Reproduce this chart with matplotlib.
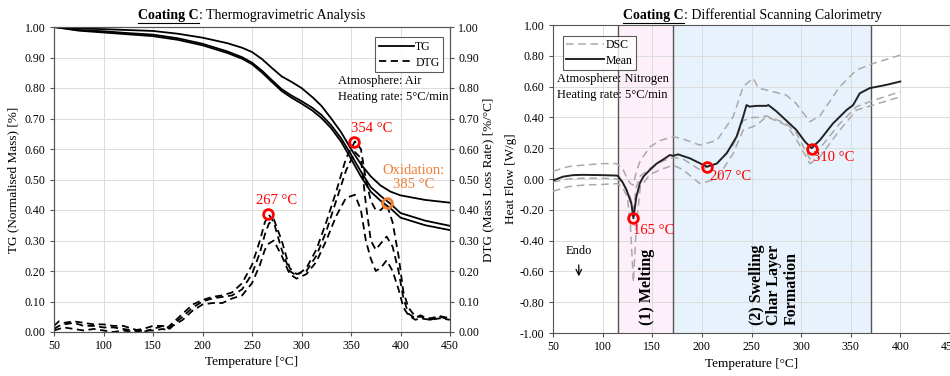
import matplotlib
matplotlib.use("Agg")
import matplotlib.pyplot as plt
from matplotlib.lines import Line2D

plt.rcParams['font.family'] = ['Liberation Serif', 'DejaVu Serif']
plt.rcParams['axes.unicode_minus'] = False

# ---- TGA data (left) ----
tg_t = [50, 75, 100, 125, 150, 175, 200, 225, 240, 250, 260, 270, 280, 290, 300, 311, 320, 330, 340, 350, 360, 370, 380,
        390, 400, 425, 450]
tg_a = [1.00, 0.995, 0.993, 0.99, 0.987, 0.978, 0.965, 0.947, 0.932, 0.918, 0.895, 0.866, 0.838, 0.82, 0.80, 0.77, 0.742,
        0.70, 0.655, 0.60, 0.55, 0.51, 0.48, 0.46, 0.448, 0.433, 0.424]
tg_b = [1.00, 0.99, 0.986, 0.98, 0.975, 0.963, 0.945, 0.92, 0.901, 0.883, 0.857, 0.826, 0.796, 0.775, 0.757, 0.735,
        0.712, 0.678, 0.635, 0.582, 0.526, 0.475, 0.446, 0.42, 0.39, 0.365, 0.348]
tg_c = [1.00, 0.988, 0.982, 0.976, 0.97, 0.958, 0.94, 0.915, 0.896, 0.878, 0.851, 0.82, 0.79, 0.768, 0.749, 0.726, 0.702,
        0.668, 0.624, 0.568, 0.51, 0.46, 0.43, 0.405, 0.375, 0.35, 0.334]

dtg_t = [50, 55, 60, 70, 80, 90, 100, 110, 120, 130, 140, 150, 160, 165, 170, 180, 190, 200, 210, 220, 230, 240, 250, 258,
         263, 267, 272, 280, 288, 295, 305, 315, 325, 335, 345, 354, 360, 365, 370, 375, 380, 386, 392, 398, 403, 408,
         415, 420, 430, 440, 450]
dtg_a = [0.02, 0.035, 0.03, 0.035, 0.03, 0.025, 0.025, 0.02, 0.02, 0.01, 0.0, 0.01, 0.02, 0.015, 0.03, 0.06, 0.09, 0.105,
         0.115, 0.12, 0.13, 0.16, 0.22, 0.30, 0.36, 0.385, 0.36, 0.27, 0.2, 0.185, 0.21, 0.27, 0.36, 0.46, 0.57, 0.625,
         0.6, 0.5, 0.43, 0.40, 0.40, 0.42, 0.36, 0.25, 0.13, 0.08, 0.05, 0.05, 0.045, 0.052, 0.045]
dtg_b = [0.01, 0.02, 0.025, 0.03, 0.02, 0.02, 0.015, 0.015, 0.01, 0.005, 0.01, 0.02, 0.02, 0.01, 0.025, 0.05, 0.08, 0.10,
         0.11, 0.115, 0.12, 0.14, 0.19, 0.26, 0.32, 0.355, 0.37, 0.30, 0.21, 0.19, 0.2, 0.25, 0.33, 0.43, 0.53, 0.59,
         0.57, 0.42, 0.30, 0.27, 0.29, 0.313, 0.28, 0.20, 0.11, 0.06, 0.045, 0.055, 0.04, 0.05, 0.04]
dtg_c = [0.005, 0.01, 0.015, 0.01, 0.005, 0.01, 0.005, 0.0, 0.005, 0.0, 0.005, 0.005, 0.01, 0.005, 0.02, 0.04, 0.07, 0.09,
         0.095, 0.095, 0.11, 0.12, 0.16, 0.22, 0.27, 0.29, 0.30, 0.25, 0.19, 0.175, 0.19, 0.23, 0.30, 0.38, 0.44, 0.45,
         0.40, 0.30, 0.24, 0.20, 0.21, 0.235, 0.20, 0.14, 0.08, 0.055, 0.04, 0.045, 0.04, 0.045, 0.04]

# ---- DSC data (right) ----
mean_t = [50, 60, 70, 80, 100, 115, 120, 124, 129, 131, 134, 137.6, 141, 147.7, 154.4, 162.8, 167.8, 171, 176, 188, 205,
          215, 225, 235, 241.6, 245, 248, 255, 265, 267, 275, 285, 295, 303.8, 310.5, 319, 332, 345.8, 352.4, 359, 369, 385, 400]
mean_v = [-0.01, 0.015, 0.025, 0.027, 0.025, 0.022, -0.02, -0.07, -0.16, -0.255, -0.115, -0.026, 0.015, 0.06, 0.10, 0.134,
          0.156, 0.15, 0.16, 0.134, 0.08, 0.10, 0.167, 0.275, 0.405, 0.48, 0.47, 0.475, 0.475, 0.48, 0.44, 0.38, 0.32,
          0.243, 0.20, 0.253, 0.36, 0.448, 0.48, 0.556, 0.59, 0.61, 0.633]

dsc_t = [50, 65, 80, 100, 114, 120, 125, 128, 131, 134, 138, 148, 158, 171, 181, 198, 215, 231.6, 241.6, 251.7, 257, 265,
         285, 295, 308.8, 319, 339, 355.8, 372.6, 400]
dsc_u = [0.05, 0.08, 0.09, 0.10, 0.10, 0.07, 0.0, -0.03, -0.04, 0.05, 0.12, 0.21, 0.25, 0.275, 0.26, 0.22, 0.25, 0.405,
         0.6, 0.654, 0.59, 0.578, 0.545, 0.49, 0.372, 0.41, 0.6, 0.708, 0.75, 0.805]
dsc_m = [-0.02, 0.0, 0.005, 0.005, 0.0, -0.02, -0.08, -0.12, -0.2, -0.05, 0.02, 0.07, 0.11, 0.14, 0.13, 0.06, 0.10, 0.22,
         0.38, 0.40, 0.40, 0.41, 0.36, 0.30, 0.13, 0.20, 0.36, 0.47, 0.51, 0.567]
dsc_l = [-0.08, -0.05, -0.04, -0.035, -0.03, -0.05, -0.12, -0.3, -0.67, -0.3, -0.05, 0.03, 0.06, 0.09, 0.06, -0.03, 0.0,
         0.167, 0.318, 0.34, 0.36, 0.405, 0.35, 0.26, 0.10, 0.145, 0.318, 0.448, 0.48, 0.534]

tga_marks = [(266.5, 0.386), (353.5, 0.624)]
ox_mark = (386.5, 0.422)
dsc_marks = [(131, -0.255), (205.5, 0.08), (310.5, 0.198)]

W, H = 950, 376
fig = plt.figure(figsize=(W / 100, H / 100), dpi=100)
fs = 8.5
grid_kw = dict(color='#dcdcdc', lw=0.7)

# ---------------- left: TGA ----------------
ax = fig.add_axes([54 / W, 1 - 332 / H, 396 / W, 305 / H])
ax2 = ax.twinx()
for y in (tg_a, tg_b, tg_c):
    ax.plot(tg_t, y, color='k', lw=1.3, zorder=3)
for y in (dtg_a, dtg_b, dtg_c):
    ax2.plot(dtg_t, y, color='k', lw=1.3, ls=(0, (4, 2.5)))
ax.set_xlim(50, 450)
ax.set_ylim(0, 1)
ax2.set_ylim(0, 1)
ax.set_xticks(range(50, 451, 50))
ticks = [i / 10 for i in range(11)]
ax.set_yticks(ticks)
ax2.set_yticks(ticks)
ax.set_yticklabels([f"{t:.2f}" for t in ticks])
ax2.set_yticklabels([f"{t:.2f}" for t in ticks])
ax.grid(True, **grid_kw)
ax.set_axisbelow(True)
ax.set_xlabel("Temperature [°C]", fontsize=9.5, labelpad=3)
ax.set_ylabel("TG (Normalised Mass) [%]", fontsize=9.5, labelpad=4)
ax2.set_ylabel("DTG (Mass Loss Rate) [%/°C]", fontsize=9.5, labelpad=2)
for a in (ax, ax2):
    a.tick_params(labelsize=fs, length=3, color='#555555', pad=3)
    for s in a.spines.values():
        s.set_color('#555555')
        s.set_linewidth(0.8)

for (x, y) in tga_marks:
    ax2.plot(x, y, 'o', ms=7, mfc='none', mec='red', mew=2, zorder=5)
ax2.plot(*ox_mark, 'o', ms=7, mfc='none', mec='#ee7d31', mew=2, zorder=5)
ax2.text(275, 0.41, "267 °C", color='red', fontsize=10.5, ha='center', va='bottom')
ax2.text(350, 0.645, "354 °C", color='red', fontsize=10.5, ha='left', va='bottom')
ax2.text(413, 0.505, "Oxidation:\n385 °C", color='#ee7d31', fontsize=10.5, ha='center', va='center',
         linespacing=1.1)
ax.text(338 / W, 1 - 81 / H, "Atmosphere: Air", transform=fig.transFigure, fontsize=9, va='center')
ax.text(338 / W, 1 - 97 / H, "Heating rate: 5°C/min", transform=fig.transFigure, fontsize=9, va='center')
h = [Line2D([], [], color='k', lw=1.3), Line2D([], [], color='k', lw=1.3, ls=(0, (4, 2.5)))]
leg = ax.legend(h, ["TG", "DTG"], loc='upper right', fontsize=8.5, frameon=True, fancybox=False,
                handlelength=3.0, handletextpad=0.1, borderpad=0.3, labelspacing=0.3,
                bbox_to_anchor=(0.997, 0.985))
leg.get_frame().set_edgecolor('#333333')
leg.get_frame().set_linewidth(0.8)

# ---------------- right: DSC ----------------
bx = fig.add_axes([553 / W, 1 - 333 / H, 397 / W, 308 / H])
bx.axvspan(115, 171, color='#fdf0fa', zorder=0.2, lw=0)
bx.axvspan(171, 370, color='#e8f2fc', zorder=0.2, lw=0)
for xv in (115, 171, 370):
    bx.axvline(xv, color='#555555', lw=1.0, zorder=2)
for y in (dsc_u, dsc_m, dsc_l):
    bx.plot(dsc_t, y, color='#aaaaaa', lw=1.1, ls=(0, (5, 3)), zorder=3)
bx.plot(mean_t, mean_v, color='#222222', lw=1.4, zorder=4)
for (x, y) in dsc_marks:
    bx.plot(x, y, 'o', ms=7, mfc='none', mec='red', mew=2, zorder=5)
bx.text(131, -0.295, "165 °C", color='red', fontsize=10.5, ha='left', va='top')
bx.text(208, 0.06, "207 °C", color='red', fontsize=10.5, ha='left', va='top')
bx.text(312, 0.18, "310 °C", color='red', fontsize=10.5, ha='left', va='top')
bx.set_xlim(50, 450)
bx.set_ylim(-1, 1)
bx.set_xticks(range(50, 451, 50))
yt = [-1 + 0.2 * i for i in range(11)]
bx.set_yticks(yt)
bx.set_yticklabels([f"{t:.2f}" if abs(t) > 1e-9 else "0.00" for t in yt])
bx.grid(True, **grid_kw)
bx.set_axisbelow(True)
bx.tick_params(labelsize=fs, length=3, color='#555555', pad=3, right=True, top=False)
for s in bx.spines.values():
    s.set_color('#555555')
    s.set_linewidth(0.8)
bx.set_xlabel("Temperature [°C]", fontsize=9.5, labelpad=3)
bx.set_ylabel("Heat Flow [W/g]", fontsize=9.5, labelpad=2)
bx.text(557 / W, 1 - 79 / H, "Atmosphere: Nitrogen", transform=fig.transFigure, fontsize=9, va='center')
bx.text(557 / W, 1 - 95 / H, "Heating rate: 5°C/min", transform=fig.transFigure, fontsize=9, va='center')
bx.text(76, -0.47, "Endo", fontsize=9, ha='center', va='center')
bx.annotate("", xy=(76, -0.65), xytext=(76, -0.54),
            arrowprops=dict(arrowstyle='->', color='k', lw=0.9))
bx.text(145, -0.95, "(1) Melting", fontsize=11.5, weight='bold', rotation=90, ha='center', va='bottom')
bx.text(273, -0.95, "(2) Swelling\nChar Layer\nFormation", fontsize=11.5, weight='bold', rotation=90,
        ha='center', va='bottom', multialignment='left', linespacing=1.15)
h = [Line2D([], [], color='#aaaaaa', lw=1.1, ls=(0, (5, 3))), Line2D([], [], color='#222222', lw=1.4)]
leg = bx.legend(h, ["DSC", "Mean"], loc='upper left', fontsize=8.5, frameon=True, fancybox=False,
                handlelength=3.2, handletextpad=0.1, borderpad=0.3, labelspacing=0.3,
                bbox_to_anchor=(0.01, 0.985))
leg.get_frame().set_edgecolor('#333333')
leg.get_frame().set_linewidth(0.8)


# ---------------- titles with bold underlined part ----------------
def title(x0, bold, rest):
    fig.canvas.draw()
    r = fig.canvas.get_renderer()
    yb = 1 - 19 / H
    t1 = fig.text(x0, yb, bold, fontsize=10, weight='bold', va='baseline')
    w = t1.get_window_extent(r).width / W
    fig.text(x0 + w, yb, rest, fontsize=10, va='baseline')
    fig.add_artist(Line2D([x0, x0 + w], [1 - 22.5 / H] * 2, transform=fig.transFigure, color='k', lw=0.8))


title(138 / W, "Coating C", ": Thermogravimetric Analysis")
title(623 / W, "Coating C", ": Differential Scanning Calorimetry")

fig.savefig("out.png", dpi=100)
